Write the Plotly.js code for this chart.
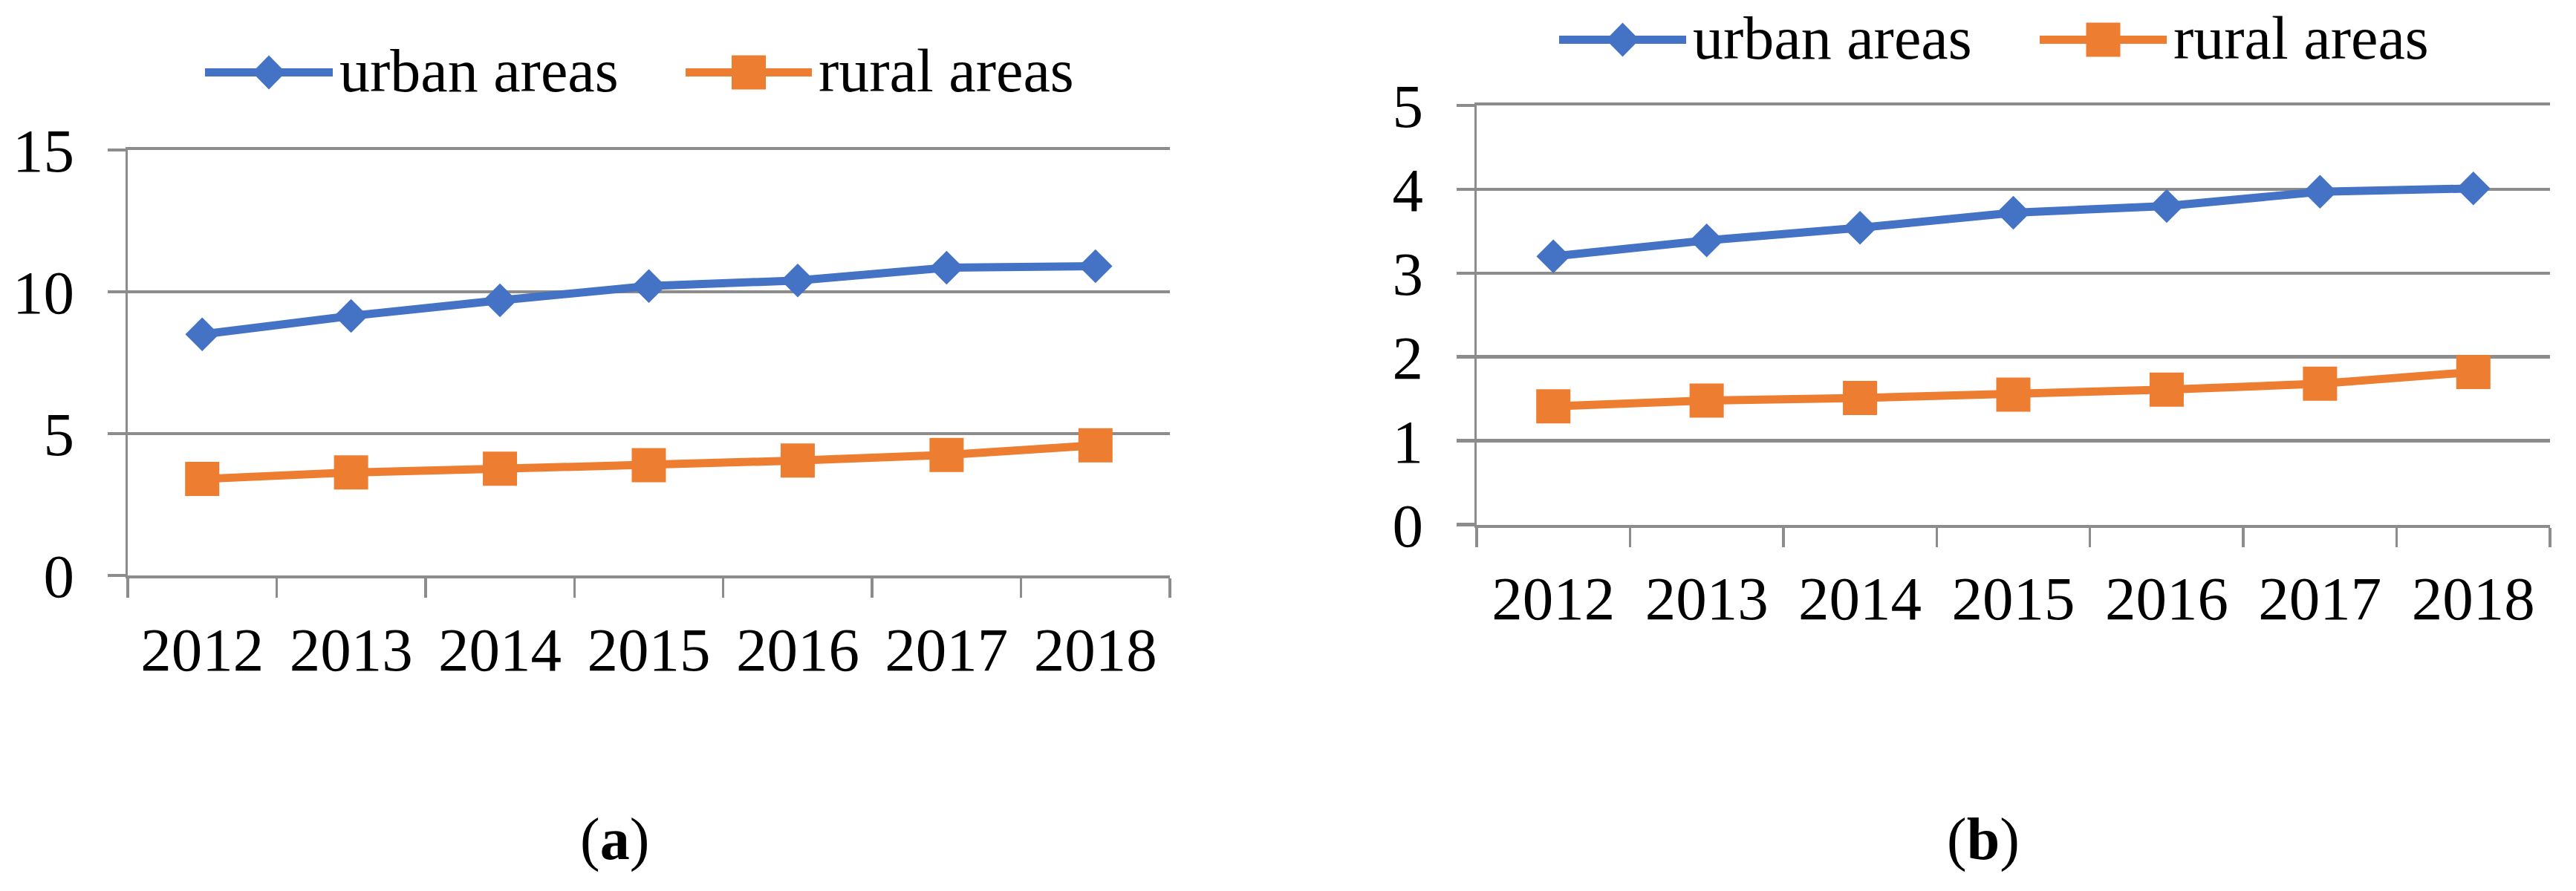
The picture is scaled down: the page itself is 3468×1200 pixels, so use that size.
<!DOCTYPE html>
<html>
<head>
<meta charset="utf-8">
<script src="https://cdn.plot.ly/plotly-3.0.1.min.js"></script>
<style>html,body{margin:0;padding:0;background:#fff;}#chart{width:3468px;height:1200px;}</style>
</head>
<body>
<div id="chart"></div>
<script>
// ---- data ----
var years = ['2012', '2013', '2014', '2015', '2016', '2017', '2018'];
var urbanA = [8.5, 9.15, 9.7, 10.2, 10.4, 10.85, 10.9];
var ruralA = [3.4, 3.63, 3.76, 3.89, 4.05, 4.25, 4.59];
var urbanB = [3.2, 3.39, 3.54, 3.72, 3.8, 3.97, 4.01];
var ruralB = [1.41, 1.48, 1.51, 1.55, 1.61, 1.68, 1.82];
var seriesNames = ['urban areas', 'rural areas'];
var panelLabels = ['(<b>a</b>)', '(<b>b</b>)'];

var W = 3468, H = 1200;
var BLUE = '#4472C4', ORANGE = '#ED7D31', GRID = '#8c8c8c';
var FONT = 'Liberation Serif, Times New Roman, serif';
function px(x) { return x / W; }
function py(y) { return 1 - y / H; }

function mkTrace(y, name, color, symbol, size, xa, ya) {
  return {
    x: years, y: y, name: name, type: 'scatter', mode: 'lines+markers',
    xaxis: xa, yaxis: ya,
    line: { color: color, width: 11 },
    marker: { color: color, symbol: symbol, size: size, line: { width: 0 } },
    cliponaxis: false
  };
}

var data = [
  mkTrace(urbanA, seriesNames[0], BLUE, 'diamond', 35, 'x', 'y'),
  mkTrace(ruralA, seriesNames[1], ORANGE, 'square', 46, 'x', 'y'),
  mkTrace(urbanB, seriesNames[0], BLUE, 'diamond', 35, 'x2', 'y2'),
  mkTrace(ruralB, seriesNames[1], ORANGE, 'square', 46, 'x2', 'y2')
];

function xAxis(domain, anchor) {
  return {
    domain: domain, anchor: anchor, type: 'category', range: [-0.5, 6.5],
    showgrid: false, zeroline: false,
    showline: true, linecolor: GRID, linewidth: 4, mirror: true,
    ticks: 'outside', tickson: 'boundaries', ticklen: 26, tickwidth: 3.5, tickcolor: GRID,
    tickfont: { family: FONT, size: 83, color: '#000' },
    ticklabelstandoff: 24,
    fixedrange: true
  };
}
function yAxis(domain, anchor, maxv, dtick) {
  return {
    domain: domain, anchor: anchor, range: [0, maxv], dtick: dtick, tick0: 0,
    showgrid: true, gridcolor: GRID, gridwidth: 4.5, zeroline: false,
    showline: true, linecolor: GRID, linewidth: 3.5,
    ticks: 'outside', ticklen: 24, tickwidth: 4.5, tickcolor: GRID,
    tickfont: { family: FONT, size: 83, color: '#000' },
    ticklabelstandoff: 28,
    fixedrange: true
  };
}

// legend drawn as layout shapes + annotations (large symbols like the reference)
var shapes = [], annotations = [];
function legendItem(x0, x1, cy, color, symbol, textX, text) {
  shapes.push({ type: 'line', xref: 'paper', yref: 'paper', x0: px(x0), x1: px(x1), y0: py(cy), y1: py(cy),
    line: { color: color, width: 11 } });
  var cx = (x0 + x1) / 2;
  if (symbol === 'diamond') {
    var p = 'M' + px(cx - 22.5) + ',' + py(cy) + ' L' + px(cx) + ',' + py(cy - 23) + ' L' + px(cx + 22.5) + ',' + py(cy) +
            ' L' + px(cx) + ',' + py(cy + 23) + ' Z';
    shapes.push({ type: 'path', xref: 'paper', yref: 'paper', path: p, fillcolor: color, line: { width: 0 } });
  } else {
    shapes.push({ type: 'rect', xref: 'paper', yref: 'paper', x0: px(cx - 23), x1: px(cx + 23), y0: py(cy + 23), y1: py(cy - 23),
      fillcolor: color, line: { width: 0 } });
  }
  annotations.push({ xref: 'paper', yref: 'paper', x: px(textX), y: py(cy - 2), xanchor: 'left', yanchor: 'middle',
    text: text, showarrow: false, font: { family: FONT, size: 82, color: '#000' } });
}
legendItem(276, 448, 97.5, BLUE, 'diamond', 455, seriesNames[0]);
legendItem(923, 1093, 97.5, ORANGE, 'square', 1100, seriesNames[1]);
legendItem(2099, 2270, 53.5, BLUE, 'diamond', 2277, seriesNames[0]);
legendItem(2746, 2917, 53.5, ORANGE, 'square', 2924, seriesNames[1]);

annotations.push({ xref: 'paper', yref: 'paper', x: px(827), y: py(1130), xanchor: 'center', yanchor: 'middle',
  text: panelLabels[0], showarrow: false, font: { family: FONT, size: 80, color: '#000' } });
annotations.push({ xref: 'paper', yref: 'paper', x: px(2670), y: py(1130), xanchor: 'center', yanchor: 'middle',
  text: panelLabels[1], showarrow: false, font: { family: FONT, size: 80, color: '#000' } });

var layout = {
  width: W, height: H, autosize: false,
  margin: { l: 0, r: 0, t: 0, b: 0, pad: 0 },
  paper_bgcolor: '#fff', plot_bgcolor: '#fff',
  showlegend: false,
  font: { family: FONT, color: '#000' },
  xaxis: xAxis([px(172), px(1575)], 'y'),
  yaxis: yAxis([py(775), py(202)], 'x', 15, 5),
  xaxis2: xAxis([px(1988), px(3433)], 'y2'),
  yaxis2: yAxis([py(706.5), py(142)], 'x2', 5, 1),
  shapes: shapes,
  annotations: annotations
};

Plotly.newPlot('chart', data, layout, { staticPlot: true, displayModeBar: false });
</script>
</body>
</html>
